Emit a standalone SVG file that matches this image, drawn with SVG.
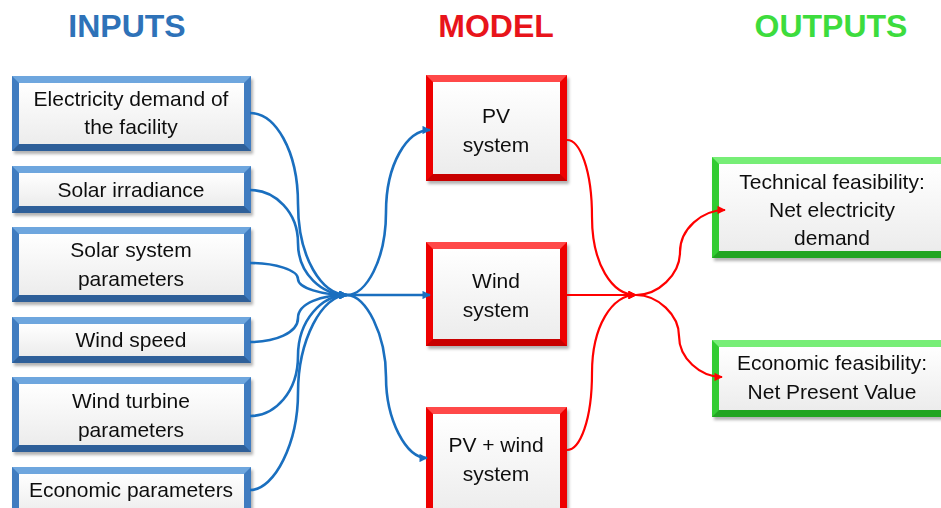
<svg xmlns="http://www.w3.org/2000/svg" width="941" height="508" viewBox="0 0 941 508">
<defs>
<linearGradient id="fillg" x1="0" y1="0" x2="0" y2="1">
<stop offset="0" stop-color="#ffffff"/><stop offset="1" stop-color="#ececec"/>
</linearGradient>
<filter id="sh" x="-5%" y="-5%" width="115%" height="120%">
<feDropShadow dx="2" dy="3" stdDeviation="1.5" flood-color="#000" flood-opacity="0.3"/>
</filter>
<marker id="ab" viewBox="0 0 10 10" refX="9" refY="5" markerWidth="3.6" markerHeight="3.2" orient="auto" markerUnits="strokeWidth">
<path d="M0,0 L10,5 L0,10 z" fill="#1a6fbf"/>
</marker>
<marker id="ar" viewBox="0 0 10 10" refX="9" refY="5" markerWidth="4.2" markerHeight="3.8" orient="auto" markerUnits="strokeWidth">
<path d="M0,0 L10,5 L0,10 z" fill="#ff0000"/>
</marker>
</defs>
<style>
.t{font-family:"Liberation Sans",Arial,sans-serif;font-size:21px;fill:#111;text-anchor:middle}
.h{font-family:"Liberation Sans",Arial,sans-serif;font-size:32px;font-weight:bold;text-anchor:middle}
.bm{fill:#3f7cc0}.bt{fill:#6ea6de}.bb{fill:#2d5f99}
.rm{fill:#ee0000}.rt{fill:#ff4a4a}.rb{fill:#c80000}
.gm{fill:#33cc33}.gt{fill:#77ee77}.gb{fill:#22a522}
.in{fill:url(#fillg)}
.cb{fill:none;stroke:#1a6fbf;stroke-width:2.6}
.cr{fill:none;stroke:#ff0000;stroke-width:2.2}
</style>
<rect width="941" height="508" fill="#fff"/>
<text class="h" x="127" y="37" fill="#2e72b8">INPUTS</text>
<text class="h" x="496" y="37" fill="#e8141b">MODEL</text>
<text class="h" x="831" y="37" fill="#3ddc3d">OUTPUTS</text>

<g id="in1" filter="url(#sh)"><rect class="bm" x="12" y="76" width="239" height="75"/><polygon class="bt" points="12,76 251,76 244,83 19,83"/><polygon class="bb" points="12,151 251,151 244,144 19,144"/><rect class="in" x="19" y="83" width="225" height="61"/>
<text class="t" x="131" y="106">Electricity demand of</text><text class="t" x="131" y="134">the facility</text></g>
<g id="in2" filter="url(#sh)"><rect class="bm" x="12" y="166" width="239" height="47"/><polygon class="bt" points="12,166 251,166 244,173 19,173"/><polygon class="bb" points="12,213 251,213 244,206 19,206"/><rect class="in" x="19" y="173" width="225" height="33"/>
<text class="t" x="131" y="197">Solar irradiance</text></g>
<g id="in3" filter="url(#sh)"><rect class="bm" x="12" y="227" width="239" height="75"/><polygon class="bt" points="12,227 251,227 244,234 19,234"/><polygon class="bb" points="12,302 251,302 244,295 19,295"/><rect class="in" x="19" y="234" width="225" height="61"/>
<text class="t" x="131" y="257">Solar system</text><text class="t" x="131" y="286">parameters</text></g>
<g id="in4" filter="url(#sh)"><rect class="bm" x="12" y="317" width="239" height="46"/><polygon class="bt" points="12,317 251,317 244,324 19,324"/><polygon class="bb" points="12,363 251,363 244,356 19,356"/><rect class="in" x="19" y="324" width="225" height="32"/>
<text class="t" x="131" y="347">Wind speed</text></g>
<g id="in5" filter="url(#sh)"><rect class="bm" x="12" y="377" width="239" height="75"/><polygon class="bt" points="12,377 251,377 244,384 19,384"/><polygon class="bb" points="12,452 251,452 244,445 19,445"/><rect class="in" x="19" y="384" width="225" height="61"/>
<text class="t" x="131" y="408">Wind turbine</text><text class="t" x="131" y="437">parameters</text></g>
<g id="in6" filter="url(#sh)"><rect class="bm" x="12" y="467" width="239" height="48"/><polygon class="bt" points="12,467 251,467 244,474 19,474"/><rect class="in" x="19" y="474" width="225" height="40"/>
<text class="t" x="131" y="497">Economic parameters</text></g>

<g id="m1" filter="url(#sh)"><rect class="rm" x="426" y="75" width="141" height="106"/><polygon class="rt" points="426,75 567,75 560,82 433,82"/><polygon class="rb" points="426,181 567,181 560,174 433,174"/><rect class="in" x="433" y="82" width="127" height="92"/>
<text class="t" x="496" y="123">PV</text><text class="t" x="496" y="152">system</text></g>
<g id="m2" filter="url(#sh)"><rect class="rm" x="426" y="242" width="141" height="104"/><polygon class="rt" points="426,242 567,242 560,249 433,249"/><polygon class="rb" points="426,346 567,346 560,339 433,339"/><rect class="in" x="433" y="249" width="127" height="90"/>
<text class="t" x="496" y="288">Wind</text><text class="t" x="496" y="317">system</text></g>
<g id="m3" filter="url(#sh)"><rect class="rm" x="426" y="407" width="141" height="108"/><polygon class="rt" points="426,407 567,407 560,414 433,414"/><rect class="in" x="433" y="414" width="127" height="100"/>
<text class="t" x="496" y="452">PV + wind</text><text class="t" x="496" y="481">system</text></g>

<g id="o1" filter="url(#sh)"><rect class="gm" x="712" y="157" width="240" height="101"/><polygon class="gt" points="712,157 952,157 945,164 719,164"/><polygon class="gb" points="712,258 952,258 945,251 719,251"/><rect class="in" x="719" y="164" width="240" height="87"/>
<text class="t" x="832" y="189">Technical feasibility:</text><text class="t" x="832" y="217">Net electricity</text><text class="t" x="832" y="245">demand</text></g>
<g id="o2" filter="url(#sh)"><rect class="gm" x="712" y="340" width="240" height="77"/><polygon class="gt" points="712,340 952,340 945,347 719,347"/><polygon class="gb" points="712,417 952,417 945,410 719,410"/><rect class="in" x="719" y="347" width="240" height="63"/>
<text class="t" x="832" y="370">Economic feasibility:</text><text class="t" x="832" y="399">Net Present Value</text></g>

<g id="connectors">
<path class="cb" d="M250,113 C275,113 298,150 298,204 C298,258 322,295 347,295" marker-end="url(#ab)"/>
<path class="cb" d="M250,190 C275,190 298,212 298,243 C298,274 322,295 347,295" marker-end="url(#ab)"/>
<path class="cb" d="M250,263 C275,263 298,270 298,279 C298,288 322,295 347,295" marker-end="url(#ab)"/>
<path class="cb" d="M250,342 C275,342 298,333 298,318 C298,303 322,295 347,295" marker-end="url(#ab)"/>
<path class="cb" d="M250,416 C275,416 298,392 298,356 C298,320 322,295 347,295" marker-end="url(#ab)"/>
<path class="cb" d="M250,490 C275,490 298,442 298,393 C298,340 322,295 347,295" marker-end="url(#ab)"/>
<path class="cb" d="M347,295 C366,295 386,260 386,212 C386,164 407,130 430,130" marker-end="url(#ab)"/>
<path class="cb" d="M347,295 L430,295" marker-end="url(#ab)"/>
<path class="cb" d="M347,295 C366,295 386,335 386,377 C386,420 406,458 427,458" marker-end="url(#ab)"/>
<path class="cr" d="M567,140 C580,140 592,170 592,217 C592,264 612,295 636,295" marker-end="url(#ar)"/>
<path class="cr" d="M567,295 L636,295" marker-end="url(#ar)"/>
<path class="cr" d="M567,450 C580,450 592,420 592,373 C592,326 612,295 636,295" marker-end="url(#ar)"/>
<path class="cr" d="M636,295 C658,295 680,275 680,252 C680,229 702,210 725,210" marker-end="url(#ar)"/>
<path class="cr" d="M636,295 C658,295 679,315 679,336 C679,358 700,377 722,377" marker-end="url(#ar)"/>
</g>
</svg>
